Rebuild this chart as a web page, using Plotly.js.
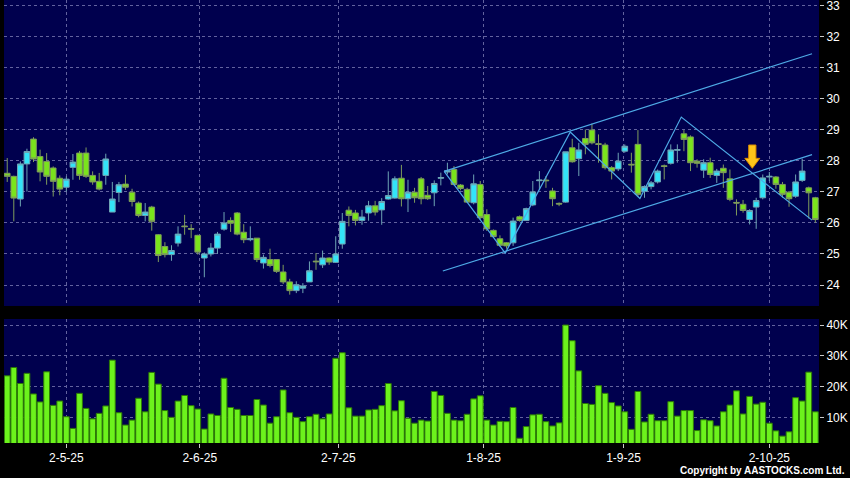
<!DOCTYPE html>
<html>
<head>
<meta charset="utf-8">
<script src="https://cdn.plot.ly/plotly-3.0.1.min.js"></script>
<style>html,body{margin:0;padding:0;background:#000;}#chart{width:850px;height:478px;}</style>
</head>
<body>
<div id="chart"></div>
<script>
// ---- data ----
const openP = [
27.60,27.50,26.77,27.90,28.70,28.14,27.98,27.77,27.44,27.15,
27.79,28.25,28.25,27.53,27.34,27.53,26.35,26.98,27.25,26.99,
26.64,26.24,26.51,25.62,25.24,24.98,25.35,25.90,25.82,25.60,
24.87,25.00,25.19,25.80,26.08,26.32,25.70,25.46,25.51,24.71,
24.82,24.82,24.42,24.10,23.82,23.90,24.10,24.77,24.65,24.87,
24.73,25.32,26.41,26.32,26.08,26.32,26.55,26.42,26.77,26.80,
27.44,26.78,26.99,27.42,26.89,26.97,27.44,27.64,27.72,27.22,
27.08,26.65,27.24,26.27,25.76,25.49,25.36,25.36,26.20,26.08,
26.58,27.36,27.38,27.03,26.63,26.67,28.42,28.07,28.72,28.99,
28.55,28.51,27.78,27.74,28.31,27.89,28.53,27.02,27.17,27.32,
27.84,27.92,28.34,28.87,28.77,27.99,27.70,27.94,27.53,27.76,
27.42,26.66,26.60,26.11,26.51,26.81,27.48,27.48,27.24,26.99,
26.86,27.37,27.13,26.81];
const highP = [
28.09,27.52,27.98,28.39,28.76,28.36,28.25,27.82,27.53,27.50,
28.22,28.32,28.43,27.66,27.61,28.23,27.32,27.32,27.55,27.10,
26.69,26.64,26.55,25.64,25.38,25.28,25.89,26.26,25.96,25.62,
25.05,25.35,25.71,26.35,26.18,26.35,25.96,25.89,25.51,24.98,
25.17,24.82,24.65,24.20,24.12,24.06,24.76,25.03,25.11,24.89,
25.57,26.32,26.53,26.42,26.42,26.71,26.71,26.80,27.66,27.50,
27.87,27.39,27.13,27.48,27.19,27.37,27.62,27.94,27.83,27.25,
27.13,27.56,27.35,26.44,25.79,25.60,25.38,26.17,26.24,26.49,
27.35,27.67,27.51,27.13,26.66,28.29,28.71,28.58,29.01,29.20,
28.85,28.58,27.83,28.26,28.53,28.26,28.99,27.21,27.35,27.72,
27.88,28.53,28.53,28.99,28.82,28.05,28.05,28.10,27.74,27.88,
27.72,26.76,26.74,26.44,26.81,27.56,27.64,27.51,27.32,27.03,
27.56,28.07,27.17,26.84];
const lowP = [
27.32,26.05,26.53,27.01,27.96,27.34,27.23,26.85,26.89,27.01,
27.39,27.39,27.45,27.23,27.05,27.23,26.35,26.67,27.07,26.53,
26.18,26.05,25.75,24.74,24.89,24.78,25.24,25.62,25.51,24.98,
24.25,24.92,25.00,25.75,25.71,25.60,25.35,25.41,24.74,24.53,
24.57,24.39,24.03,23.69,23.74,23.74,24.10,24.49,24.55,24.65,
24.71,25.17,25.89,25.92,25.94,26.07,26.24,25.94,26.75,26.78,
26.53,26.35,26.65,26.60,26.74,26.54,27.21,27.56,27.21,27.05,
26.65,26.60,26.11,25.74,25.52,25.23,25.17,25.26,26.04,26.06,
26.54,27.08,27.13,26.54,26.54,26.65,27.94,27.51,28.21,28.53,
27.94,27.72,27.40,27.67,28.26,27.62,26.84,26.81,27.08,27.27,
27.40,27.88,27.94,28.31,27.67,27.78,27.45,27.45,27.29,27.13,
26.70,26.24,26.33,25.95,25.81,26.76,27.35,27.10,26.81,26.52,
26.81,27.32,26.14,26.01];
const closeP = [
27.50,26.80,27.90,28.30,28.06,27.64,27.50,27.34,27.09,27.41,
27.96,27.53,27.50,27.32,27.09,28.06,26.77,27.23,27.15,26.69,
26.24,26.35,26.05,24.95,24.98,25.11,25.64,25.88,25.80,25.06,
25.00,25.19,25.64,26.00,25.99,25.64,25.46,25.49,24.82,24.89,
24.63,24.44,24.10,23.82,24.01,23.97,24.46,24.75,24.87,24.74,
25.00,26.05,26.24,26.08,26.19,26.55,26.35,26.69,26.88,27.42,
26.78,26.99,26.81,26.78,26.78,27.27,27.46,27.68,27.24,27.11,
26.67,27.26,26.17,25.81,25.56,25.28,25.26,26.06,26.08,26.46,
27.00,27.38,27.36,26.78,26.61,28.29,27.97,28.35,28.53,28.58,
28.53,27.78,27.67,27.99,28.47,27.87,26.92,27.17,27.29,27.67,
27.82,28.35,28.36,28.69,27.94,27.92,27.94,27.56,27.67,27.62,
26.76,26.64,26.40,26.40,26.72,27.45,27.50,27.24,26.92,26.78,
27.32,27.67,26.97,26.11];
// volume in thousands of shares
const volumeK = [
23.5,26.2,21.0,24.3,17.6,15.0,24.8,13.9,15.3,10.2,
6.4,17.8,12.9,9.5,11.3,13.7,28.6,11.5,7.5,9.1,
16.2,11.8,24.6,20.8,12.2,10.0,15.3,17.1,13.8,12.7,
6.2,11.1,10.6,22.7,13.2,12.6,10.6,10.6,15.8,14.0,
8.1,10.2,18.9,11.5,10.0,8.6,10.2,11.0,9.5,11.1,
29.2,31.0,13.1,10.4,10.4,12.4,12.6,13.8,21.0,12.1,
15.4,9.7,8.1,9.1,8.8,18.4,17.1,11.3,9.1,8.9,
11.0,16.0,17.0,9.1,7.5,8.7,8.6,13.2,3.2,7.0,
10.8,11.0,8.6,7.2,8.2,40.0,34.9,25.1,14.5,14.2,
20.3,17.8,14.8,13.7,11.8,6.1,18.4,8.5,11.0,8.9,
8.9,15.1,10.4,12.2,12.2,5.7,9.2,8.9,7.2,11.8,
14.0,18.6,11.1,16.8,14.3,14.9,8.1,5.6,3.9,5.3,
16.4,15.3,24.7,11.8];
const session = openP.map((_, i) => i);

const xTickAt = [9, 29.3, 50.4, 72.5, 93.8, 116];
const xTickText = ['2-5-25', '2-6-25', '2-7-25', '1-8-25', '1-9-25', '2-10-25'];
const priceTicks = [24, 25, 26, 27, 28, 29, 30, 31, 32, 33];
const volTicks = [10, 20, 30, 40];
const volTickText = ['10K', '20K', '30K', '40K'];

// drawn trend lines (session, price)
const zigX = [66.5, 75.8, 85.7, 96.3, 102.6, 122.5];
const zigY = [27.66, 25.03, 28.93, 26.79, 29.41, 26.09];
const upperX = [66.5, 122.5];
const upperY = [27.66, 31.45];
const lowerX = [66.3, 122.5];
const lowerY = [24.45, 28.20];
// marker arrow: session, top price, tip price
const arrowAt = [113.41, 28.51, 27.76];

// ---- chart ----
const grid = '#62629e';
const trendColor = '#4eaae6';
const tl = (xs, ys) => ({type:'scatter', mode:'lines', x:xs, y:ys, xaxis:'x', yaxis:'y',
  line:{color:trendColor, width:1.2}, hoverinfo:'skip'});

const traces = [
  {type:'candlestick', x:session, open:openP, high:highP, low:lowP, close:closeP,
   xaxis:'x', yaxis:'y', whiskerwidth:0, hoverinfo:'skip',
   increasing:{line:{color:'#6ea4b4', width:1}, fillcolor:'#33e4f8'},
   decreasing:{line:{color:'#7f9c5c', width:1}, fillcolor:'#7ae41c'}},
  {type:'bar', x:session, y:volumeK, xaxis:'x', yaxis:'y2', hoverinfo:'skip',
   marker:{color:'#6cf21c', line:{color:'#2d7a06', width:1}}},
  tl(upperX, upperY), tl(lowerX, lowerY), tl(zigX, zigY)
];

// arrow geometry (half widths in sessions, head height in price)
const [ax, aTop, aTip] = arrowAt;
const sh = 0.55, hh = 1.14, headH = 0.32;
const arrowPath = `M ${ax-sh},${aTop} L ${ax+sh},${aTop} L ${ax+sh},${aTip+headH} L ${ax+hh},${aTip+headH} L ${ax},${aTip} L ${ax-hh},${aTip+headH} L ${ax-sh},${aTip+headH} Z`;

const axisCommon = {showgrid:true, gridcolor:grid, griddash:'3px,3px', gridwidth:1,
  zeroline:false, showline:false, ticks:'outside', ticklen:4, tickcolor:'#c8c8c8',
  tickfont:{size:12, color:'#ffffff'}, fixedrange:true, automargin:false,
  ticklabeloverflow:'allow'};

const layout = {
  width:850, height:478,
  paper_bgcolor:'#000000', plot_bgcolor:'#00004e',
  margin:{l:4, r:31, t:0, b:35, pad:0},
  showlegend:false,
  font:{family:'Liberation Sans, Arial, sans-serif', size:12, color:'#ffffff'},
  boxgap:0.14, boxgroupgap:0, bargap:0.12,
  xaxis:Object.assign({}, axisCommon, {anchor:'y2', range:[-0.49, 123.56],
    tickmode:'array', tickvals:xTickAt, ticktext:xTickText, rangeslider:{visible:false}}),
  yaxis:Object.assign({}, axisCommon, {domain:[0.3093, 1], range:[23.325, 33.18], side:'right',
    anchor:'x', tickmode:'array', tickvals:priceTicks}),
  yaxis2:Object.assign({}, axisCommon, {domain:[0, 0.2799], range:[1.66, 41.96], side:'right',
    anchor:'x', tickmode:'array', tickvals:volTicks, ticktext:volTickText}),
  shapes:[{type:'path', xref:'x', yref:'y', path:arrowPath,
    fillcolor:'#ffc61a', line:{color:'#d98c00', width:1}}],
  annotations:[{xref:'paper', yref:'paper', x:1.0344, y:-0.0632, xanchor:'right', yanchor:'middle',
    showarrow:false, text:'<b>Copyright by AASTOCKS.com Ltd.</b>',
    font:{size:10, color:'#ffffff', family:'Liberation Sans, Arial, sans-serif'}}]
};

Plotly.newPlot('chart', traces, layout, {displayModeBar:false, staticPlot:true});
</script>
</body>
</html>
